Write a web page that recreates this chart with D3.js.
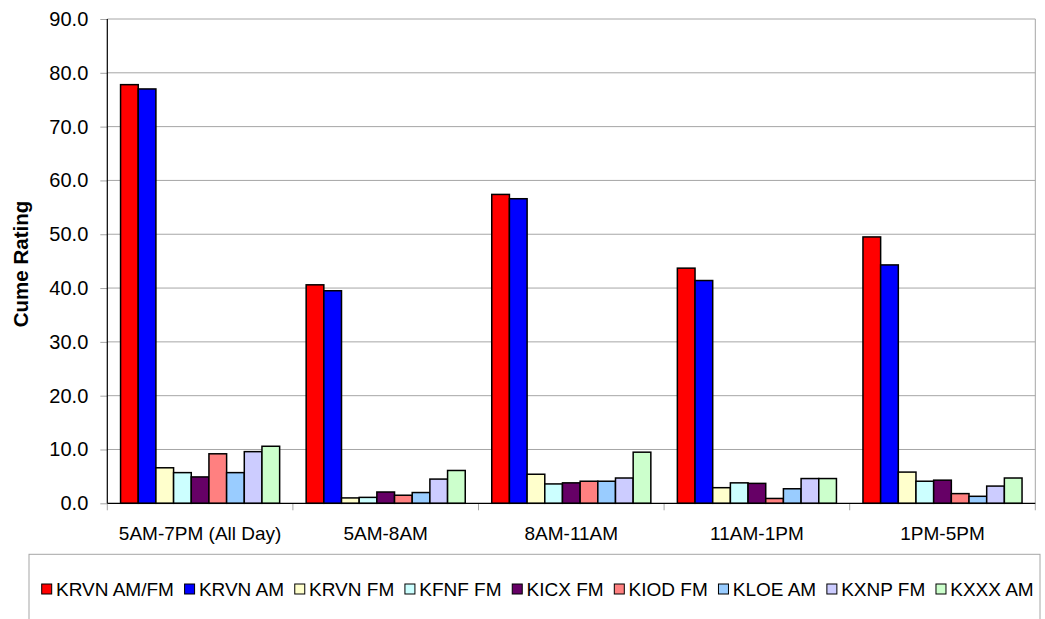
<!DOCTYPE html>
<html><head><meta charset="utf-8">
<script src="https://cdn.jsdelivr.net/npm/d3@7"></script>
<style>
html,body{margin:0;padding:0;background:#fff;}
svg{display:block;font-family:"Liberation Sans",Arial,sans-serif;}
</style></head>
<body>
<svg id="chart" width="1045" height="619"></svg>
<script>
const categories = ["5AM-7PM (All Day)", "5AM-8AM", "8AM-11AM", "11AM-1PM", "1PM-5PM"];
const seriesNames = ["KRVN AM/FM", "KRVN AM", "KRVN FM", "KFNF FM", "KICX FM", "KIOD FM", "KLOE AM", "KXNP FM", "KXXX AM"];
const seriesColors = ["#FF0000", "#0000FF", "#FFFFCC", "#CCFFFF", "#660066", "#FF8080", "#99CCFF", "#CCCCFF", "#CCFFCC"];
const krvnAmFm = [77.8, 40.6, 57.4, 43.7, 49.5];
const krvnAm   = [77.0, 39.5, 56.6, 41.4, 44.3];
const krvnFm   = [6.6, 1.0, 5.4, 2.9, 5.8];
const kfnfFm   = [5.7, 1.1, 3.6, 3.8, 4.1];
const kicxFm   = [4.9, 2.1, 3.8, 3.7, 4.3];
const kiodFm   = [9.2, 1.5, 4.1, 0.9, 1.8];
const kloeAm   = [5.7, 2.0, 4.1, 2.7, 1.3];
const kxnpFm   = [9.6, 4.5, 4.7, 4.6, 3.2];
const kxxxAm   = [10.6, 6.1, 9.5, 4.6, 4.7];
const yTicks = [0, 10, 20, 30, 40, 50, 60, 70, 80, 90];
const yTitle = "Cume Rating";

const seriesValues = [krvnAmFm, krvnAm, krvnFm, kfnfFm, kicxFm, kiodFm, kloeAm, kxnpFm, kxxxAm];

const svg = d3.select("#chart");
const pLeft = 107.3, pRight = 1035.3, pTop = 19, pBottom = 503.3;

const x0 = d3.scaleBand().domain(categories).range([pLeft, pRight]).padding(0);
const x1 = d3.scaleBand().domain(seriesNames).range([0, x0.bandwidth()]).paddingInner(0).paddingOuter(0.75);
const y = d3.scaleLinear().domain([0, 90]).range([pBottom, pTop]);

// gridlines
svg.append("g").selectAll("line").data(yTicks.filter(d => d > 0)).join("line")
  .attr("x1", pLeft).attr("x2", pRight)
  .attr("y1", d => y(d)).attr("y2", d => y(d))
  .attr("stroke", "#a6a6a6").attr("stroke-width", 1);

// right border of plot area
svg.append("line").attr("x1", pRight).attr("x2", pRight).attr("y1", pTop).attr("y2", pBottom)
  .attr("stroke", "#a6a6a6").attr("stroke-width", 1);

// bars
const groups = svg.append("g").selectAll("g").data(categories).join("g")
  .attr("transform", d => `translate(${x0(d)},0)`);
groups.selectAll("rect").data((c, ci) => seriesNames.map((s, si) => ({s, si, v: seriesValues[si][ci]})))
  .join("rect")
  .attr("x", d => x1(d.s))
  .attr("width", x1.bandwidth())
  .attr("y", d => y(d.v))
  .attr("height", d => y(0) - y(d.v))
  .attr("fill", d => seriesColors[d.si])
  .attr("stroke", "#000").attr("stroke-width", 1.5);

// y axis
const yAxis = d3.axisLeft(y).tickValues(yTicks).tickFormat(d3.format(".1f")).tickSize(7).tickPadding(12);
const ya = svg.append("g").attr("transform", `translate(${pLeft},0)`).call(yAxis);
ya.select(".domain").remove();
ya.selectAll(".tick line").attr("stroke", "#a6a6a6");
ya.selectAll(".tick text").attr("font-size", "20px").attr("fill", "#000")
  .attr("font-family", '"Liberation Sans",Arial,sans-serif');
svg.append("line").attr("x1", pLeft).attr("x2", pLeft).attr("y1", pTop).attr("y2", pBottom)
  .attr("stroke", "#000").attr("stroke-width", 1.2);

// x axis
const xAxis = d3.axisBottom(x0).tickSize(0).tickPadding(0);
const xa = svg.append("g").attr("transform", `translate(0,${pBottom})`).call(xAxis);
xa.select(".domain").remove();
xa.selectAll(".tick text").attr("font-size", "19px").attr("fill", "#000").attr("dy", null).attr("y", 37)
  .attr("font-family", '"Liberation Sans",Arial,sans-serif');
// category boundary ticks
const boundaries = [pLeft].concat(categories.slice(1).map(c => x0(c))).concat([pRight]);
svg.append("g").selectAll("line").data(boundaries).join("line")
  .attr("x1", d => d).attr("x2", d => d)
  .attr("y1", pBottom).attr("y2", pBottom + 7)
  .attr("stroke", "#a6a6a6");
svg.append("line").attr("x1", pLeft).attr("x2", pRight).attr("y1", pBottom).attr("y2", pBottom)
  .attr("stroke", "#000").attr("stroke-width", 1.2);

// y title
svg.append("text").attr("transform", `translate(27.5,264) rotate(-90)`)
  .attr("text-anchor", "middle").attr("font-size", "20.5px").attr("font-weight", "bold")
  .text(yTitle);

// legend
svg.append("rect").attr("x", 29).attr("y", 554.3).attr("width", 1011).attr("height", 100)
  .attr("fill", "#fff").attr("stroke", "#a6a6a6").attr("stroke-width", 1);
const lg = svg.append("g");
const items = lg.selectAll("g").data(seriesNames).join("g");
items.append("rect").attr("width", 10).attr("height", 10).attr("y", 584)
  .attr("fill", (d, i) => seriesColors[i]).attr("stroke", "#000").attr("stroke-width", 1);
items.append("text").attr("y", 595.7).attr("font-size", "19px").text(d => d);
const widths = [];
items.each(function () { widths.push(d3.select(this).select("text").node().getComputedTextLength()); });
const startX = 41.7, endX = 1033.7;
const total = widths.reduce((a, w) => a + 14.3 + w, 0);
const gap = (endX - startX - total) / (seriesNames.length - 1);
let cx = startX;
items.each(function (d, i) {
  const g = d3.select(this);
  g.select("rect").attr("x", cx);
  g.select("text").attr("x", cx + 14.3);
  cx += 14.3 + widths[i] + gap;
});
</script>
</body></html>
